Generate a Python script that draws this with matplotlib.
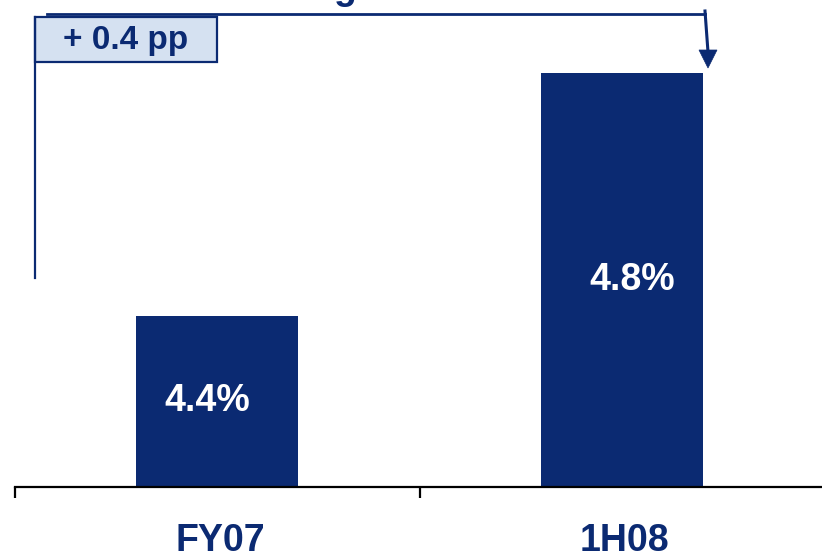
import matplotlib
matplotlib.use("Agg")
import matplotlib.pyplot as plt
from matplotlib.patches import Rectangle, Polygon

categories = ["FY07", "1H08"]
values = [4.4, 4.8]
value_labels = ["4.4%", "4.8%"]
change_label = "+ 0.4 pp"

NAVY = "#0B2A72"
LIGHT = "#D5E1F1"
W, H = 822, 556

plt.rcParams['font.family'] = ['Liberation Sans', 'DejaVu Sans']

fig = plt.figure(figsize=(W / 100, H / 100), dpi=100)
ax = fig.add_axes([15 / W, (H - 487) / H, (824 - 15) / W, 487 / H])
ax.set_facecolor("none")

x = list(range(len(categories)))
ax.bar(x, values, width=0.4, color=NAVY, zorder=2)
ax.set_xlim(-0.5, 1.5)
ax.set_ylim(4.1185, 4.920)

for s in ["top", "right", "left"]:
    ax.spines[s].set_visible(False)
ax.spines["bottom"].set_linewidth(1.6)
ax.spines["bottom"].set_color("black")
ax.set_yticks([])
ax.set_xticks([-0.5, 0.5])
ax.set_xticklabels([])
ax.tick_params(axis="x", direction="out", length=8, width=1.6, color="black")

base = 4.1185
offs = [-10, 10]
for xi, v, lab, o in zip(x, values, value_labels, offs):
    ax.annotate(lab, xy=(xi, (base + v) / 2), xytext=(o * 0.72, 0),
                textcoords="offset points", ha="center", va="center",
                color="white", fontsize=27, fontweight="bold", zorder=3)

for xi, cat in zip(x, categories):
    ax.annotate(cat, xy=(xi, 0), xycoords=("data", "axes fraction"),
                xytext=(3 * 0.72, -54 * 0.72), textcoords="offset points",
                ha="center", va="center", color=NAVY, fontsize=27,
                fontweight="bold")

# bracket annotation (figure pixel coordinates, origin top-left converted)
def fy(y):
    return (H - y) / H

def fx(xp):
    return xp / W

fig.add_artist(plt.Line2D([fx(35), fx(35)], [fy(278), fy(17)], color=NAVY, lw=1.6))
fig.add_artist(plt.Line2D([fx(47), fx(705)], [fy(14), fy(14)], color=NAVY, lw=2.0))
fig.add_artist(Rectangle((fx(35), fy(62)), fx(217) - fx(35), fy(17) - fy(62),
                         facecolor=LIGHT, edgecolor=NAVY, lw=1.6))
fig.text(fx(126), fy(40), change_label, ha="center", va="center",
         color=NAVY, fontsize=24, fontweight="bold")
fig.add_artist(plt.Line2D([fx(705), fx(708)], [fy(11), fy(52)], color=NAVY, lw=2.2))
fig.add_artist(Polygon([(fx(699), fy(50)), (fx(717), fy(50)), (fx(708), fy(68))],
                       closed=True, facecolor=NAVY, edgecolor=NAVY, lw=0.5))

# clipped title fragment at the very top
fig.text(fx(345), 1.0 + 1 / H, "g", ha="center", va="baseline",
         color=NAVY, fontsize=27, fontweight="bold")

fig.savefig("out.png", dpi=100)
